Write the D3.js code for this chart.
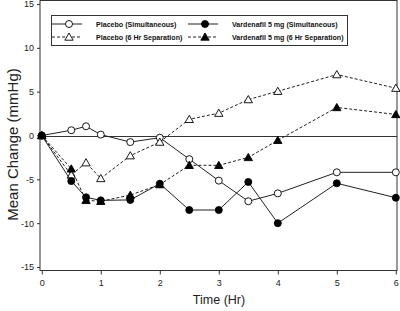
<!DOCTYPE html>
<html lang="en">
<head>
<meta charset="UTF-8">
<title>Mean Change vs Time</title>
<script src="https://cdnjs.cloudflare.com/ajax/libs/d3/7.8.5/d3.min.js"></script>
<style>
  body { margin: 0; background: white; font-family: "Liberation Sans", Arial, sans-serif; }
  svg { display: block; }
</style>
</head>
<body>
<div id="chart"></div>
<script>
  const width = 400;
  const height = 311;

  // data
  const times = [0, 0.5, 0.75, 1, 1.5, 2, 2.5, 3, 3.5, 4, 5, 6];
  const placeboSim = [0, 0.6, 1.05, 0.1, -0.75, -0.25, -2.7, -5.15, -7.5, -6.6, -4.2, -4.2];
  const placeboSep = [0, -4.5, -3.1, -4.9, -2.3, -0.75, 1.85, 2.55, 4.1, 5.05, 6.95, 5.4];
  const vardSim = [0, -5.2, -7.05, -7.4, -7.35, -5.5, -8.5, -8.5, -5.3, -10.0, -5.45, -7.1];
  const vardSep = [0, -3.8, -7.4, -7.5, -6.8, -5.6, -3.4, -3.4, -2.5, -0.55, 3.2, 2.4];
  const seriesNames = ["Placebo (Simultaneous)", "Placebo (6 Hr Separation)",
                       "Vardenafil 5 mg (Simultaneous)", "Vardenafil 5 mg (6 Hr Separation)"];
  const xTicks = [0, 1, 2, 3, 4, 5, 6];
  const yTicks = [-15, -10, -5, 0, 5, 10, 15];

  const series = [
    {name: seriesNames[0], values: placeboSim, shape: "circle", filled: false, dashed: false},
    {name: seriesNames[1], values: placeboSep, shape: "triangle", filled: false, dashed: true},
    {name: seriesNames[2], values: vardSim, shape: "circle", filled: true, dashed: false},
    {name: seriesNames[3], values: vardSep, shape: "triangle", filled: true, dashed: true}
  ];

  const plotLeft = 40, plotRight = 397, plotTop = 0.5, plotBottom = 270.5;

  const x = d3.scaleLinear().domain([-0.03, 6.02]).range([plotLeft, plotRight]);
  const y = d3.scaleLinear().domain([-15.4, 15.4]).range([plotBottom, plotTop]);

  const svg = d3.select("#chart").append("svg")
    .attr("width", width).attr("height", height);

  // frame
  svg.append("rect")
    .attr("x", plotLeft).attr("y", plotTop)
    .attr("width", plotRight - plotLeft).attr("height", plotBottom - plotTop)
    .attr("fill", "none").attr("stroke", "#333").attr("stroke-width", 1);

  // zero line
  svg.append("line")
    .attr("x1", plotLeft).attr("x2", plotRight)
    .attr("y1", Math.round(y(0)) + 0.5).attr("y2", Math.round(y(0)) + 0.5)
    .attr("stroke", "#333").attr("stroke-width", 1);

  const yAxis = svg.append("g")
    .attr("transform", `translate(${plotLeft},0)`)
    .call(d3.axisLeft(y).tickValues(yTicks).tickSize(3).tickPadding(3).tickFormat(d => String(d)));
  const xAxis = svg.append("g")
    .attr("transform", `translate(0,${plotBottom})`)
    .call(d3.axisBottom(x).tickValues(xTicks).tickSize(4).tickPadding(5).tickFormat(d => String(d)));

  [yAxis, xAxis].forEach(g => {
    g.select(".domain").remove();
    g.selectAll("line").attr("stroke", "#333");
    g.selectAll("text").attr("fill", "#222")
      .style("font-family", "'Liberation Sans', Arial, sans-serif").style("font-size", "9px");
  });

  svg.append("text")
    .attr("x", 219).attr("y", 304)
    .attr("text-anchor", "middle")
    .style("font-size", "12.5px").attr("fill", "#222")
    .text("Time (Hr)");

  svg.append("text")
    .attr("transform", `translate(18,144.5) rotate(-90)`)
    .attr("text-anchor", "middle")
    .style("font-size", "15px").attr("fill", "#222")
    .text("Mean Change (mmHg)");

  const line = d3.line().x((d, i) => x(times[i])).y(d => y(d));
  const tri = d3.symbol().type(d3.symbolTriangle).size(30);

  function drawMarker(g, s, px, py) {
    if (s.shape === "circle") {
      g.append("circle").attr("cx", px).attr("cy", py).attr("r", 3.5)
        .attr("fill", s.filled ? "#000" : "#fff").attr("stroke", "#000").attr("stroke-width", 0.9);
    } else {
      g.append("path").attr("d", tri).attr("transform", `translate(${px},${py + 0.8})`)
        .attr("fill", s.filled ? "#000" : "#fff").attr("stroke", "#000").attr("stroke-width", 0.9);
    }
  }

  series.forEach(s => {
    const g = svg.append("g");
    g.append("path").datum(s.values)
      .attr("d", line)
      .attr("fill", "none")
      .attr("stroke", "#222")
      .attr("stroke-width", 1)
      .attr("stroke-dasharray", s.dashed ? "3,2" : null);
    s.values.forEach((v, i) => drawMarker(g, s, x(times[i]), y(v)));
  });

  // legend
  const legend = svg.append("g");
  legend.append("rect")
    .attr("x", 51.5).attr("y", 15.5).attr("width", 296).attr("height", 30)
    .attr("fill", "#fff").attr("stroke", "#333");
  const cols = [52, 188];
  const rows = [24, 37];
  const textX = [96, 232];
  series.forEach((s, i) => {
    const cx = cols[i < 2 ? 0 : 1];
    const ry = rows[i % 2];
    legend.append("line")
      .attr("x1", cx).attr("x2", cx + 30).attr("y1", ry).attr("y2", ry)
      .attr("stroke", "#222").attr("stroke-dasharray", s.dashed ? "3,2" : null);
    drawMarker(legend, s, cx + 17, ry);
    legend.append("text")
      .attr("x", textX[i < 2 ? 0 : 1]).attr("y", ry + 3)
      .style("font-size", "7.1px").style("font-weight", "bold").attr("fill", "#111")
      .text(s.name);
  });
</script>
</body>
</html>
